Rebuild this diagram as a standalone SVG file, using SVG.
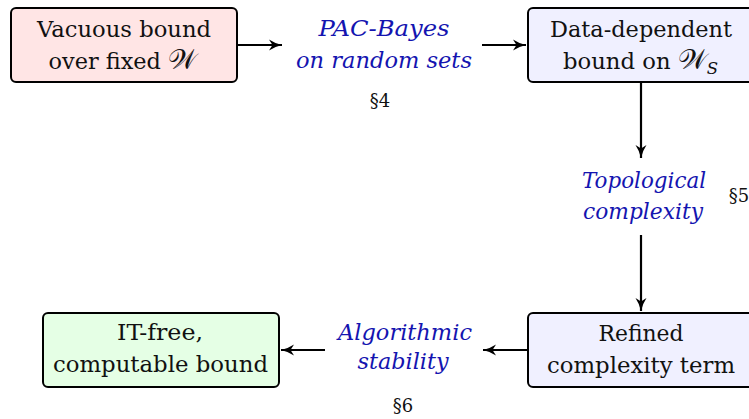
<svg xmlns="http://www.w3.org/2000/svg" width="749" height="419" viewBox="0 0 749 419">
<style>
.box{stroke:#000;stroke-width:2;}
.t{font-family:"DejaVu Serif","Liberation Serif",serif;font-size:22px;fill:#111;text-anchor:middle;}
.l{font-family:"DejaVu Serif","Liberation Serif",serif;font-size:22px;font-style:italic;fill:#1414b0;text-anchor:middle;}
.s{font-family:"DejaVu Serif","Liberation Serif",serif;font-size:18px;fill:#111;text-anchor:middle;}
.m{font-style:italic;}
.w{font-size:27px;}
.c{stroke:#000;stroke-width:2.2;fill:none;marker-end:url(#ah);}
</style>
<defs>
<marker id="ah" viewBox="0 0 14 14" refX="13" refY="7" markerWidth="14" markerHeight="14" markerUnits="userSpaceOnUse" orient="auto">
<path d="M0,1.5 Q6,5.5 13,7 Q6,8.5 0,12.5 L3.5,7 Z" fill="#000"/>
</marker>
</defs>
<g id="connectors">
<line class="c" x1="238" y1="45" x2="282" y2="45"/>
<line class="c" x1="482" y1="45" x2="526" y2="45"/>
<line class="c" x1="641" y1="83" x2="641" y2="158"/>
<line class="c" x1="641" y1="235" x2="641" y2="311"/>
<line class="c" x1="527" y1="350" x2="483" y2="350"/>
<line class="c" x1="325" y1="350" x2="281" y2="350"/>
</g>
<g id="vacuous">
<rect class="box" x="11" y="8" width="226" height="74" rx="5" fill="#ffe5e5"/>
<text class="t" x="124" y="37" textLength="174" lengthAdjust="spacingAndGlyphs">Vacuous bound</text>
<text class="t" x="122.5" y="69" textLength="148" lengthAdjust="spacingAndGlyphs">over fixed <tspan class="w">𝒲</tspan></text>
</g>
<g id="datadep">
<rect class="box" x="528" y="8" width="226" height="74" rx="5" fill="#f0f0ff"/>
<text class="t" x="641" y="37" textLength="182" lengthAdjust="spacingAndGlyphs">Data-dependent</text>
<text class="t" x="640.5" y="69" textLength="155" lengthAdjust="spacingAndGlyphs">bound on <tspan class="w">𝒲</tspan><tspan font-size="16" dy="5" class="m">S</tspan></text>
</g>
<g id="refined">
<rect class="box" x="528" y="313" width="226" height="74" rx="5" fill="#f0f0ff"/>
<text class="t" x="641" y="341" textLength="85" lengthAdjust="spacingAndGlyphs">Refined</text>
<text class="t" x="641" y="373" textLength="188" lengthAdjust="spacingAndGlyphs">complexity term</text>
</g>
<g id="itfree">
<rect class="box" x="43" y="313" width="236" height="74" rx="5" fill="#e5ffe5"/>
<text class="t" x="160" y="340" textLength="86" lengthAdjust="spacingAndGlyphs">IT-free,</text>
<text class="t" x="160.5" y="372" textLength="215" lengthAdjust="spacingAndGlyphs">computable bound</text>
</g>
<g id="pacbayes">
<text class="l" x="384" y="36" textLength="131" lengthAdjust="spacingAndGlyphs">PAC-Bayes</text>
<text class="l" x="384" y="68" textLength="176" lengthAdjust="spacingAndGlyphs">on random sets</text>
<text class="s" x="380" y="107">§4</text>
</g>
<g id="topological">
<text class="l" x="644" y="188" textLength="124" lengthAdjust="spacingAndGlyphs">Topological</text>
<text class="l" x="643" y="219" textLength="120" lengthAdjust="spacingAndGlyphs">complexity</text>
<text class="s" x="739" y="202">§5</text>
</g>
<g id="stability">
<text class="l" x="405" y="340" textLength="134" lengthAdjust="spacingAndGlyphs">Algorithmic</text>
<text class="l" x="403" y="369" textLength="91" lengthAdjust="spacingAndGlyphs">stability</text>
<text class="s" x="403" y="412">§6</text>
</g>
</svg>
